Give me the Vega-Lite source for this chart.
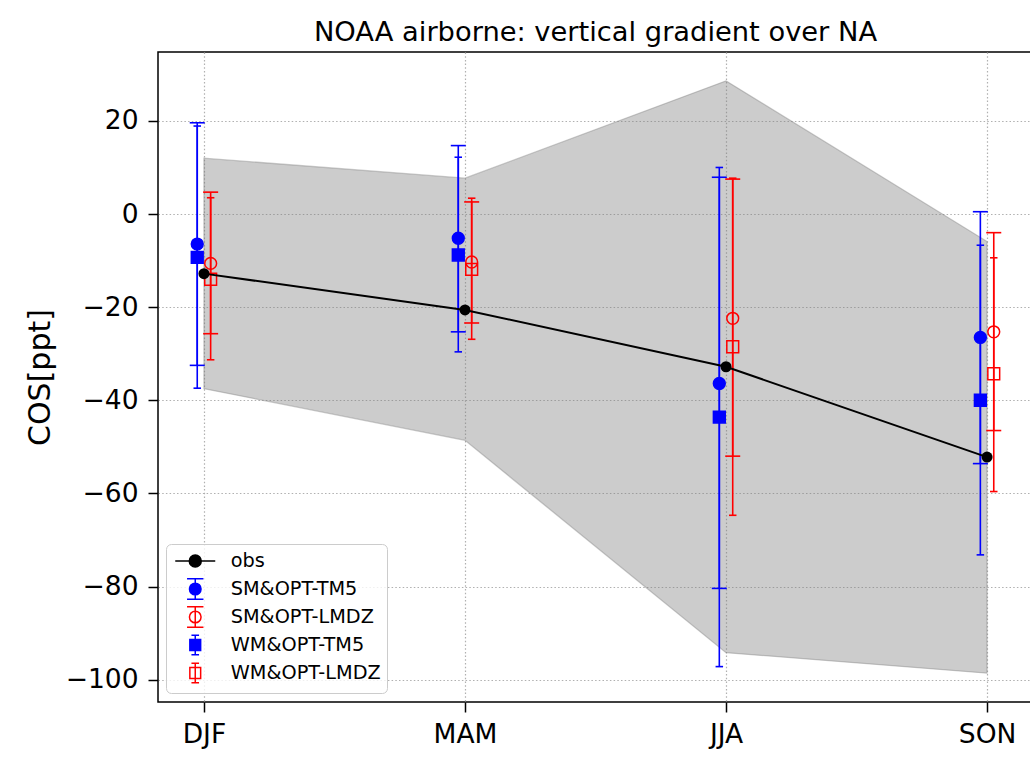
{
  "$schema": "https://vega.github.io/schema/vega-lite/v6.json",
  "autosize": {"type": "none"},
  "padding": {"left": 158, "top": 52, "right": -3, "bottom": 56},
  "width": 875,
  "height": 650,
  "background": "white",
  "title": {"text": "NOAA airborne: vertical gradient over NA", "fontSize": 27.3, "font": "DejaVu Sans", "fontWeight": "normal", "color": "black", "offset": 5.5},
  "config": {
    "font": "DejaVu Sans",
    "view": {"stroke": "black", "strokeWidth": 1.5},
    "axis": {"domain": false, "tickColor": "black", "tickWidth": 1.5, "tickSize": 10, "labelFont": "DejaVu Sans", "labelFontSize": 26.5, "labelColor": "black", "gridColor": "#b0b0b0", "gridDash": [1.5, 2.2], "gridWidth": 1.2, "titleFont": "DejaVu Sans", "titleFontWeight": "normal", "titleColor": "black"},
    "legend": {"orient": "none", "legendX": 8, "legendY": 492, "direction": "vertical", "symbolSize": 400, "symbolStrokeWidth": 1.5, "symbolOpacity": 1, "symbolOffset": 12.25, "labelFontSize": 19.3, "labelFont": "DejaVu Sans", "labelColor": "black", "labelOffset": 24.5, "rowPadding": 0, "padding": 6, "fillColor": "rgba(255,255,255,0.8)", "strokeColor": "#cccccc", "cornerRadius": 5}
  },
  "datasets": {
    "obs": [
      {"season": "DJF", "series": "obs", "value": -12.8, "lower": -37.5, "upper": 12.0},
      {"season": "MAM", "series": "obs", "value": -20.6, "lower": -48.6, "upper": 7.7},
      {"season": "JJA", "series": "obs", "value": -32.8, "lower": -94.2, "upper": 28.6},
      {"season": "SON", "series": "obs", "value": -52.2, "lower": -98.6, "upper": -5.9}
    ],
    "models": [
      {"season": "DJF", "series": "SM&OPT-TM5", "value": -6.45, "lo": -32.5, "hi": 19.6},
      {"season": "MAM", "series": "SM&OPT-TM5", "value": -5.2, "lo": -25.3, "hi": 14.7},
      {"season": "JJA", "series": "SM&OPT-TM5", "value": -36.4, "lo": -80.4, "hi": 7.9},
      {"season": "SON", "series": "SM&OPT-TM5", "value": -26.5, "lo": -53.6, "hi": 0.5},
      {"season": "DJF", "series": "SM&OPT-LMDZ", "value": -10.6, "lo": -25.7, "hi": 4.7},
      {"season": "MAM", "series": "SM&OPT-LMDZ", "value": -10.3, "lo": -23.4, "hi": 2.6},
      {"season": "JJA", "series": "SM&OPT-LMDZ", "value": -22.4, "lo": -52.0, "hi": 7.5},
      {"season": "SON", "series": "SM&OPT-LMDZ", "value": -25.3, "lo": -46.5, "hi": -4.0},
      {"season": "DJF", "series": "WM&OPT-TM5", "value": -9.3, "lo": -37.4, "hi": 18.9},
      {"season": "MAM", "series": "WM&OPT-TM5", "value": -8.8, "lo": -29.6, "hi": 12.2},
      {"season": "JJA", "series": "WM&OPT-TM5", "value": -43.6, "lo": -97.2, "hi": 10.0},
      {"season": "SON", "series": "WM&OPT-TM5", "value": -40.0, "lo": -73.2, "hi": -6.7},
      {"season": "DJF", "series": "WM&OPT-LMDZ", "value": -14.0, "lo": -31.3, "hi": 3.5},
      {"season": "MAM", "series": "WM&OPT-LMDZ", "value": -11.9, "lo": -26.9, "hi": 3.4},
      {"season": "JJA", "series": "WM&OPT-LMDZ", "value": -28.5, "lo": -64.7, "hi": 7.7},
      {"season": "SON", "series": "WM&OPT-LMDZ", "value": -34.3, "lo": -59.6, "hi": -9.4}
    ]
  },
  "layer": [
    {
      "data": {"name": "obs"},
      "mark": {"type": "area", "fill": "grey", "fillOpacity": 0.4, "stroke": "grey", "strokeOpacity": 0.4, "strokeWidth": 1.3},
      "encoding": {
        "x": {"field": "season", "type": "nominal", "sort": ["DJF", "MAM", "JJA", "SON"], "scale": {"type": "point", "domain": ["DJF", "MAM", "JJA", "SON"], "padding": 0.176}, "axis": {"title": null, "labelAngle": 0, "labelPadding": 9, "grid": true}},
        "y": {"field": "lower", "type": "quantitative", "scale": {"domain": [-104.8, 34.8], "nice": false, "zero": false}, "axis": {"values": [-100, -80, -60, -40, -20, 0, 20], "grid": true, "labelPadding": 10, "titlePadding": 10, "titleFontSize": 30, "title": "COS[ppt]"}},
        "y2": {"field": "upper"}
      }
    },
    {
      "data": {"name": "models"},
      "transform": [{"filter": {"field": "series", "oneOf": ["SM&OPT-TM5", "WM&OPT-TM5"]}}],
      "mark": {"type": "rule", "color": "blue", "strokeWidth": 1.6, "xOffset": -6.7},
      "encoding": {
        "x": {"field": "season", "type": "nominal", "sort": ["DJF", "MAM", "JJA", "SON"]},
        "y": {"field": "lo", "type": "quantitative"},
        "y2": {"field": "hi"}
      }
    },
    {
      "data": {"name": "models"},
      "transform": [{"filter": {"field": "series", "equal": "SM&OPT-TM5"}}, {"fold": ["lo", "hi"], "as": ["end", "cap"]}],
      "mark": {"type": "tick", "color": "blue", "thickness": 1.6, "size": 15, "orient": "horizontal", "xOffset": -6.7, "opacity": 1},
      "encoding": {
        "x": {"field": "season", "type": "nominal", "sort": ["DJF", "MAM", "JJA", "SON"]},
        "y": {"field": "cap", "type": "quantitative"}
      }
    },
    {
      "data": {"name": "models"},
      "transform": [{"filter": {"field": "series", "equal": "WM&OPT-TM5"}}, {"fold": ["lo", "hi"], "as": ["end", "cap"]}],
      "mark": {"type": "tick", "color": "blue", "thickness": 1.6, "size": 7.5, "orient": "horizontal", "xOffset": -6.7, "opacity": 1},
      "encoding": {
        "x": {"field": "season", "type": "nominal", "sort": ["DJF", "MAM", "JJA", "SON"]},
        "y": {"field": "cap", "type": "quantitative"}
      }
    },
    {
      "data": {"name": "models"},
      "transform": [{"filter": {"field": "series", "oneOf": ["SM&OPT-LMDZ", "WM&OPT-LMDZ"]}}],
      "mark": {"type": "rule", "color": "red", "strokeWidth": 1.6, "xOffset": 6.7},
      "encoding": {
        "x": {"field": "season", "type": "nominal", "sort": ["DJF", "MAM", "JJA", "SON"]},
        "y": {"field": "lo", "type": "quantitative"},
        "y2": {"field": "hi"}
      }
    },
    {
      "data": {"name": "models"},
      "transform": [{"filter": {"field": "series", "equal": "SM&OPT-LMDZ"}}, {"fold": ["lo", "hi"], "as": ["end", "cap"]}],
      "mark": {"type": "tick", "color": "red", "thickness": 1.6, "size": 15, "orient": "horizontal", "xOffset": 6.7, "opacity": 1},
      "encoding": {
        "x": {"field": "season", "type": "nominal", "sort": ["DJF", "MAM", "JJA", "SON"]},
        "y": {"field": "cap", "type": "quantitative"}
      }
    },
    {
      "data": {"name": "models"},
      "transform": [{"filter": {"field": "series", "equal": "WM&OPT-LMDZ"}}, {"fold": ["lo", "hi"], "as": ["end", "cap"]}],
      "mark": {"type": "tick", "color": "red", "thickness": 1.6, "size": 7.5, "orient": "horizontal", "xOffset": 6.7, "opacity": 1},
      "encoding": {
        "x": {"field": "season", "type": "nominal", "sort": ["DJF", "MAM", "JJA", "SON"]},
        "y": {"field": "cap", "type": "quantitative"}
      }
    },
    {
      "data": {"name": "models"},
      "transform": [{"filter": {"field": "series", "equal": "SM&OPT-TM5"}}],
      "mark": {"type": "point", "shape": "circle", "fill": "blue", "stroke": "blue", "strokeWidth": 1.5, "size": 140, "opacity": 1, "xOffset": -6.7},
      "encoding": {
        "x": {"field": "season", "type": "nominal", "sort": ["DJF", "MAM", "JJA", "SON"]},
        "y": {"field": "value", "type": "quantitative"}
      }
    },
    {
      "data": {"name": "models"},
      "transform": [{"filter": {"field": "series", "equal": "SM&OPT-LMDZ"}}],
      "mark": {"type": "point", "shape": "circle", "fill": "transparent", "stroke": "red", "strokeWidth": 1.5, "size": 140, "opacity": 1, "xOffset": 6.7},
      "encoding": {
        "x": {"field": "season", "type": "nominal", "sort": ["DJF", "MAM", "JJA", "SON"]},
        "y": {"field": "value", "type": "quantitative"}
      }
    },
    {
      "data": {"name": "models"},
      "transform": [{"filter": {"field": "series", "equal": "WM&OPT-TM5"}}],
      "mark": {"type": "point", "shape": "square", "fill": "blue", "stroke": "blue", "strokeWidth": 1.5, "size": 140, "opacity": 1, "xOffset": -6.7},
      "encoding": {
        "x": {"field": "season", "type": "nominal", "sort": ["DJF", "MAM", "JJA", "SON"]},
        "y": {"field": "value", "type": "quantitative"}
      }
    },
    {
      "data": {"name": "models"},
      "transform": [{"filter": {"field": "series", "equal": "WM&OPT-LMDZ"}}],
      "mark": {"type": "point", "shape": "square", "fill": "transparent", "stroke": "red", "strokeWidth": 1.5, "size": 140, "opacity": 1, "xOffset": 6.7},
      "encoding": {
        "x": {"field": "season", "type": "nominal", "sort": ["DJF", "MAM", "JJA", "SON"]},
        "y": {"field": "value", "type": "quantitative"}
      }
    },
    {
      "data": {"name": "models"},
      "mark": {"type": "point", "opacity": 0, "strokeWidth": 1.5},
      "encoding": {
        "x": {"field": "season", "type": "nominal", "sort": ["DJF", "MAM", "JJA", "SON"]},
        "y": {"field": "value", "type": "quantitative"},
        "shape": {"field": "series", "type": "nominal", "scale": {"domain": ["obs", "SM&OPT-TM5", "SM&OPT-LMDZ", "WM&OPT-TM5", "WM&OPT-LMDZ"], "range": ["M0,-1.05M0,1.05M-2,0L2,0M0.6,0A0.6,0.6,0,1,1,-0.6,0A0.6,0.6,0,1,1,0.6,0Z", "M0,-1.05M0,1.05M0,-1.03L0,1.03M-0.82,-1.03L0.82,-1.03M-0.82,1.03L0.82,1.03M0.58,0A0.58,0.58,0,1,1,-0.58,0A0.58,0.58,0,1,1,0.58,0Z", "M0,-1.05M0,1.05M0,-1.03L0,1.03M-0.82,-1.03L0.82,-1.03M-0.82,1.03L0.82,1.03M0.58,0A0.58,0.58,0,1,1,-0.58,0A0.58,0.58,0,1,1,0.58,0Z", "M0,-1.05M0,1.05M0,-0.97L0,0.97M-0.38,-0.97L0.38,-0.97M-0.38,0.97L0.38,0.97M-0.54,-0.54L0.54,-0.54L0.54,0.54L-0.54,0.54Z", "M0,-1.05M0,1.05M0,-0.97L0,0.97M-0.38,-0.97L0.38,-0.97M-0.38,0.97L0.38,0.97M-0.54,-0.54L0.54,-0.54L0.54,0.54L-0.54,0.54Z"]}, "legend": {"title": null}},
        "stroke": {"field": "series", "type": "nominal", "scale": {"domain": ["obs", "SM&OPT-TM5", "SM&OPT-LMDZ", "WM&OPT-TM5", "WM&OPT-LMDZ"], "range": ["black", "blue", "red", "blue", "red"]}, "legend": {"title": null}},
        "fill": {"field": "series", "type": "nominal", "scale": {"domain": ["obs", "SM&OPT-TM5", "SM&OPT-LMDZ", "WM&OPT-TM5", "WM&OPT-LMDZ"], "range": ["black", "blue", "transparent", "blue", "transparent"]}, "legend": {"title": null}}
      }
    },
    {
      "data": {"name": "obs"},
      "mark": {"type": "line", "color": "black", "strokeWidth": 2},
      "encoding": {
        "x": {"field": "season", "type": "nominal", "sort": ["DJF", "MAM", "JJA", "SON"]},
        "y": {"field": "value", "type": "quantitative"}
      }
    },
    {
      "data": {"name": "obs"},
      "mark": {"type": "circle", "color": "black", "size": 121, "opacity": 1},
      "encoding": {
        "x": {"field": "season", "type": "nominal", "sort": ["DJF", "MAM", "JJA", "SON"]},
        "y": {"field": "value", "type": "quantitative"}
      }
    }
  ]
}
